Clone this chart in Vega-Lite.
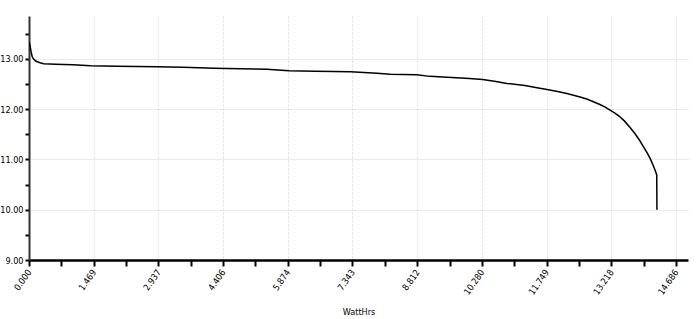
{
  "$schema": "https://vega.github.io/schema/vega-lite/v6.json",
  "autosize": "none",
  "width": 659,
  "height": 244,
  "padding": {"left": 29, "top": 16, "right": 12, "bottom": 59},
  "background": "white",
  "config": {
    "view": {"stroke": null},
    "font": "Liberation Sans Narrow, DejaVu Sans Condensed, Liberation Sans, sans-serif",
    "axis": {"labelFont": "Liberation Sans Narrow, DejaVu Sans Condensed, Liberation Sans, sans-serif", "titleFont": "Liberation Sans Narrow, DejaVu Sans Condensed, Liberation Sans, sans-serif", "labelColor": "#000", "titleColor": "#000", "labelFontSize": 9, "titleFontSize": 9, "titleFontWeight": "normal"}
  },
  "data": {
    "values": [
      {"wh": 0, "v": 13.33}, {"wh": 0.02, "v": 13.28}, {"wh": 0.045, "v": 13.15}, {"wh": 0.07, "v": 13.05},
      {"wh": 0.1, "v": 13.0}, {"wh": 0.16, "v": 12.95}, {"wh": 0.25, "v": 12.92}, {"wh": 0.33, "v": 12.9},
      {"wh": 0.6, "v": 12.89}, {"wh": 1.0, "v": 12.88}, {"wh": 1.4, "v": 12.86}, {"wh": 2.0, "v": 12.85},
      {"wh": 2.9, "v": 12.84}, {"wh": 3.5, "v": 12.83}, {"wh": 4.2, "v": 12.81}, {"wh": 4.8, "v": 12.8},
      {"wh": 5.4, "v": 12.79}, {"wh": 5.9, "v": 12.76}, {"wh": 6.5, "v": 12.75}, {"wh": 7.3, "v": 12.74},
      {"wh": 7.9, "v": 12.71}, {"wh": 8.2, "v": 12.69}, {"wh": 8.8, "v": 12.68}, {"wh": 9.1, "v": 12.65},
      {"wh": 9.6, "v": 12.63}, {"wh": 10.0, "v": 12.61}, {"wh": 10.3, "v": 12.59}, {"wh": 10.6, "v": 12.55},
      {"wh": 10.85, "v": 12.51}, {"wh": 11.26, "v": 12.47}, {"wh": 11.5, "v": 12.43}, {"wh": 11.76, "v": 12.39},
      {"wh": 12.0, "v": 12.35}, {"wh": 12.21, "v": 12.31}, {"wh": 12.51, "v": 12.24}, {"wh": 12.66, "v": 12.2},
      {"wh": 12.8, "v": 12.15}, {"wh": 12.96, "v": 12.09}, {"wh": 13.08, "v": 12.04}, {"wh": 13.19, "v": 11.98},
      {"wh": 13.3, "v": 11.92}, {"wh": 13.41, "v": 11.85}, {"wh": 13.52, "v": 11.76}, {"wh": 13.63, "v": 11.65},
      {"wh": 13.75, "v": 11.52}, {"wh": 13.86, "v": 11.38}, {"wh": 13.95, "v": 11.25}, {"wh": 14.02, "v": 11.15},
      {"wh": 14.1, "v": 11.02}, {"wh": 14.17, "v": 10.88}, {"wh": 14.22, "v": 10.77}, {"wh": 14.25, "v": 10.69},
      {"wh": 14.255, "v": 10.0}
    ]
  },
  "mark": {"type": "line", "color": "#000", "strokeWidth": 1.5, "clip": true},
  "encoding": {
    "x": {
      "field": "wh", "type": "quantitative",
      "scale": {"domain": [0, 14.96], "nice": false, "zero": false},
      "axis": {
        "title": "WattHrs",
        "titleY": 51, "titleBaseline": "middle",
        "values": [0, 0.73431, 1.46862, 2.20293, 2.93724, 3.67155, 4.40586, 5.14017, 5.87448, 6.60879, 7.3431, 8.07741, 8.81172, 9.54603, 10.28034, 11.01465, 11.74896, 12.48327, 13.21758, 13.95189, 14.6862],
        "labelExpr": "round(datum.value/0.73431) % 2 == 0 ? format(datum.value, '.3f') : ''",
        "labelAngle": -55, "labelAlign": "right", "labelBaseline": "middle", "labelPadding": 4,
        "domainColor": "#000", "domainWidth": 2.5,
        "tickColor": "#000", "tickWidth": 2, "tickSize": 6,
        "grid": true, "gridColor": "#dcdcdc", "gridDash": [2, 2], "gridWidth": 1,
        "gridOpacity": {"condition": {"test": "round(datum.value/0.73431) % 2 == 1 || datum.value == 0", "value": 0}, "value": 1}
      }
    },
    "y": {
      "field": "v", "type": "quantitative",
      "scale": {"domain": [9, 13.85], "nice": false, "zero": false},
      "axis": {
        "title": null,
        "values": [9, 9.5, 10, 10.5, 11, 11.5, 12, 12.5, 13, 13.5],
        "labelExpr": "datum.value % 1 == 0 ? format(datum.value, '.2f') : ''",
        "labelPadding": 2,
        "domainColor": "#333", "domainWidth": 2,
        "tickColor": "#000", "tickWidth": 2, "tickSize": 4,
        "grid": true, "gridColor": "#d6d6d6", "gridDash": [1, 1], "gridWidth": 1,
        "gridOpacity": {"condition": {"test": "datum.value % 1 != 0 || datum.value == 9", "value": 0}, "value": 1}
      }
    }
  }
}
